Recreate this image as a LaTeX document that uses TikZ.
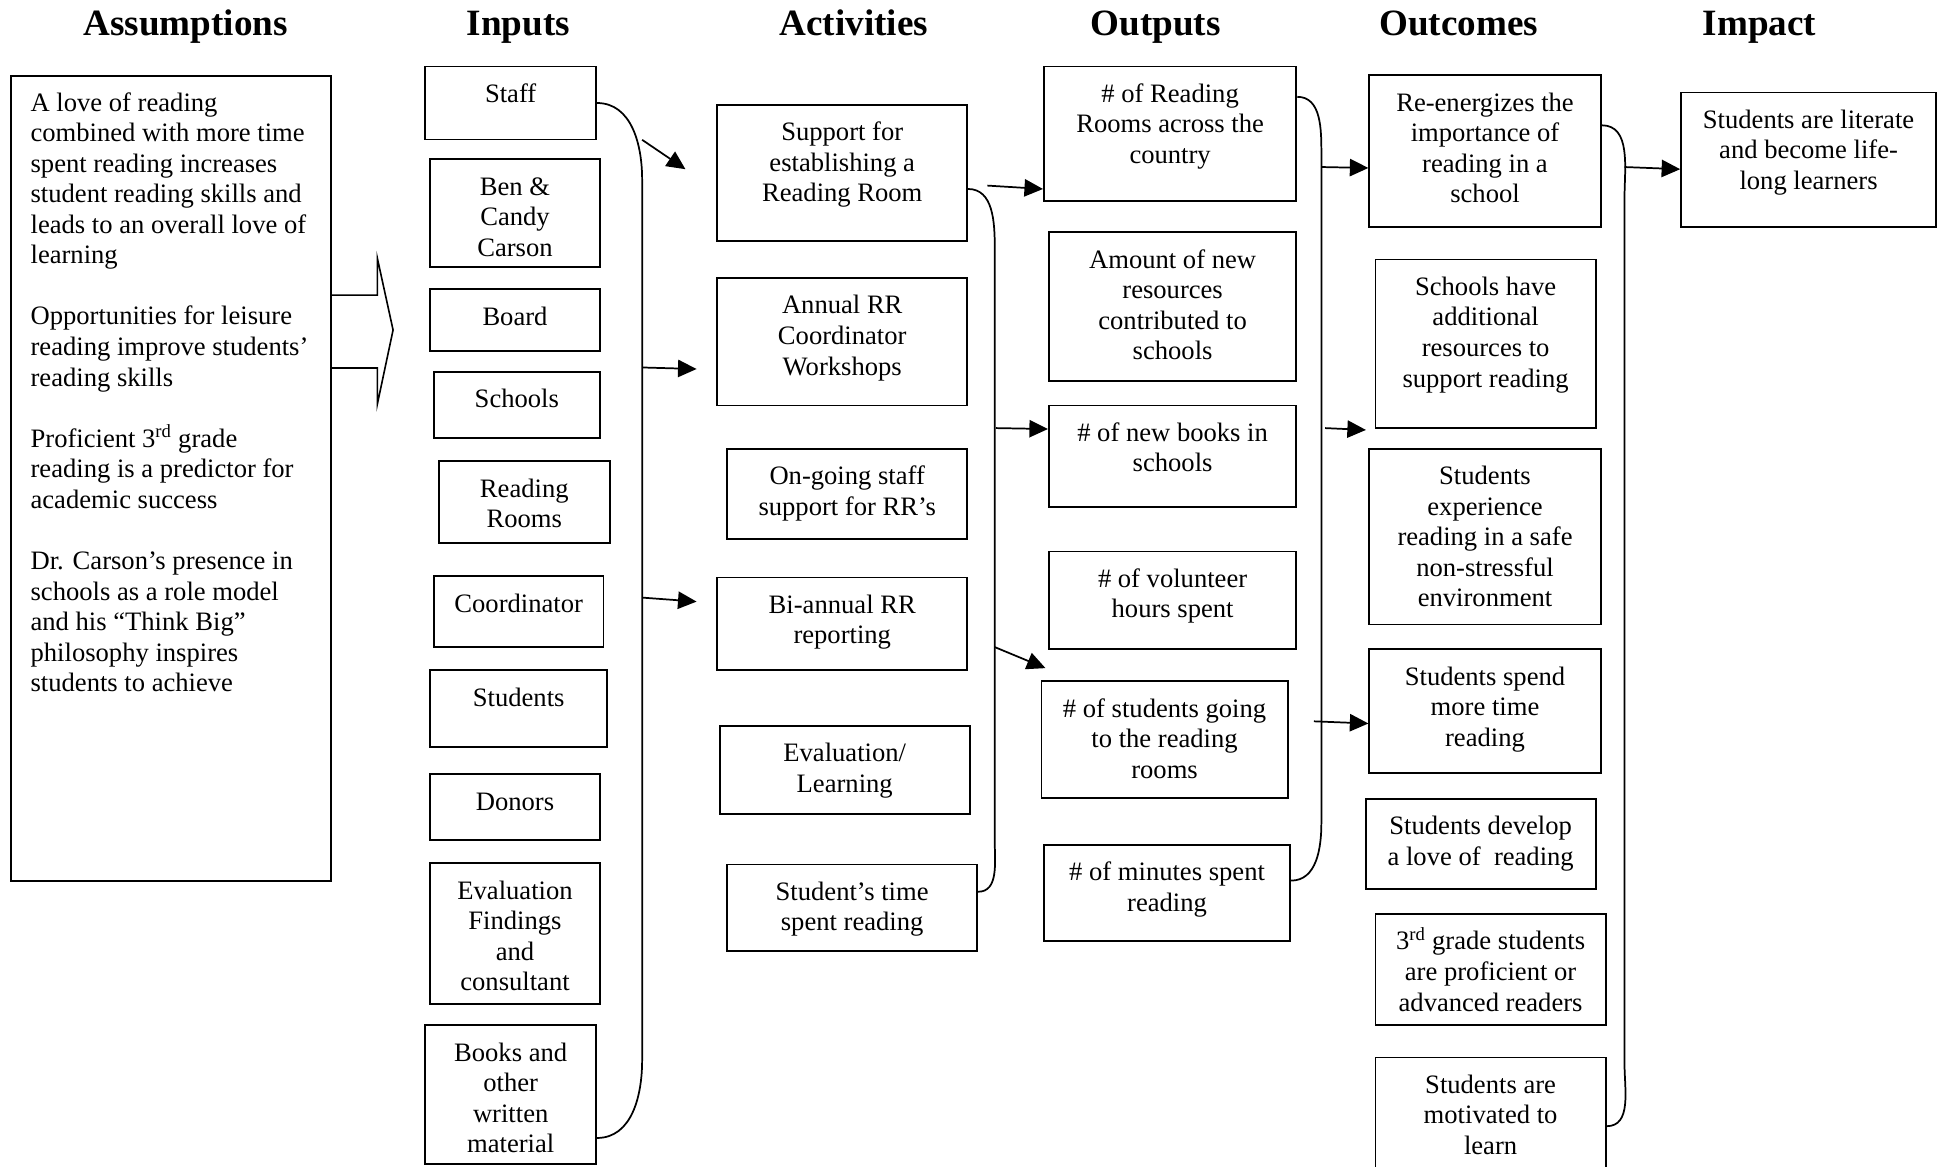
\documentclass[tikz,border=0pt]{standalone}
\usepackage{fontspec}
\setmainfont{Liberation Serif}
\usetikzlibrary{arrows.meta}
\newcommand{\boxtext}[3]{\parbox[c][#2pt][t]{#1pt}{\centering\rule{0pt}{29pt}#3}}

\begin{document}
\begin{tikzpicture}[x=1pt,y=-1pt]
  \tikzstyle{heading}=[font=\fontsize{30}{34}\selectfont\bfseries,anchor=base,inner sep=0pt]
  \tikzstyle{item}=[draw,line width=1.5pt,inner sep=0pt,anchor=north west,font=\fontsize{21.5}{24.7}\selectfont]
  \tikzstyle{brace}=[draw,line width=1.4pt]
  \tikzstyle{link}=[draw,line width=1.4pt,-{Triangle[length=15pt,width=14pt]}]
  \useasboundingbox (0,0) rectangle (1568,943);

  \node[heading] (tassume) at (150,29) {Assumptions};
  \node[heading] (tinput) at (419,29) {Inputs};
  \node[heading] (tactive) at (690,29) {Activities};
  \node[heading] (toutput) at (934,29) {Outputs};
  \node[heading] (toutcome) at (1179,29) {Outcomes};
  \node[heading] (timpact) at (1422,29) {Impact};

  \node[item] (assume) at (8,61) {\parbox[c][650pt][t]{259pt}{\raggedright\leftskip=16pt\rule{0pt}{28pt}A love of reading\\
    combined with more time\\ spent reading increases\\ student reading skills and\\
    leads to an overall love of\\ learning\\[24.7pt]
    Opportunities for leisure\\ reading improve students'\\ reading skills\\[24.7pt]
    Proficient 3\textsuperscript{rd} grade\\ reading is a predictor for\\ academic success\\[24.7pt]
    Dr. Carson's presence in\\ schools as a role model\\ and his ``Think Big''\\
    philosophy inspires\\ students to achieve}};
  \draw[line width=1.3pt] (267,238.5) -- (305,238.5) -- (305,208.7) -- (317.7,266.7)
    -- (305,326.6) -- (305,297.4) -- (267,297.4);

  \begin{scope}
    \node[item] (staff) at (343,53) {\boxtext{138}{59}{Staff}};
    \node[item] (carson) at (347,128) {\boxtext{137}{87}{Ben \&\\ Candy\\ Carson}};
    \node[item] (board) at (347,233) {\boxtext{137}{50}{Board}};
    \node[item] (schools) at (350,300) {\boxtext{134}{53}{Schools}};
    \node[item] (rrooms) at (354,372) {\boxtext{138}{66}{Reading\\ Rooms}};
    \node[item] (coord) at (350,465) {\boxtext{137}{57}{Coordinator}};
    \node[item] (students) at (347,541) {\boxtext{143}{62}{Students}};
    \node[item] (donors) at (347,625) {\boxtext{137}{53}{Donors}};
    \node[item] (evalfind) at (347,697) {\boxtext{137}{114}{Evaluation\\ Findings\\ and\\ consultant}};
    \node[item] (books) at (343,828) {\boxtext{138}{112}{Books and\\ other\\ written\\ material}};
    \path[brace] (staff.east) to[out=0,in=90] (519,145) -- (519,857)
      to[out=-90,in=0] ([yshift=-35pt]books.east);
  \end{scope}

  \begin{scope}
    \node[item] (support) at (579,84) {\boxtext{202}{110}{Support for\\ establishing a\\ Reading Room}};
    \node[item] (annual) at (579,224) {\boxtext{202}{103}{Annual RR\\ Coordinator\\ Workshops}};
    \node[item] (ongoing) at (587,362) {\boxtext{194}{73}{On-going staff\\ support for RR's}};
    \node[item] (biannual) at (579,466) {\boxtext{202}{75}{Bi-annual RR\\ reporting}};
    \node[item] (evallearn) at (581,586) {\boxtext{202}{71}{Evaluation/\\ Learning}};
    \node[item] (sttime) at (587,698) {\boxtext{202}{70}{Student's time\\ spent reading}};
    \path[brace] ([yshift=-13pt]support.east) to[out=0,in=90] (804,200) -- (804,680)
      to[out=-90,in=0] ([yshift=13pt]sttime.east);
  \end{scope}

  \begin{scope}
    \node[item] (nrooms) at (843,53) {\boxtext{204}{109}{\# of Reading\\ Rooms across the\\ country}};
    \node[item] (amount) at (847,187) {\boxtext{200}{120}{Amount of new\\ resources\\ contributed to\\ schools}};
    \node[item] (nbooks) at (847,327) {\boxtext{200}{82}{\# of new books in\\ schools}};
    \node[item] (volhours) at (847,445) {\boxtext{200}{79}{\# of volunteer\\ hours spent}};
    \node[item] (nstud) at (841,550) {\boxtext{199}{94}{\# of students going\\ to the reading\\ rooms}};
    \node[item] (nmin) at (843,682) {\boxtext{199}{78}{\# of minutes spent\\ reading}};
    \path[brace] ([yshift=30pt]nrooms.east) to[out=0,in=90] (1068,124) -- (1068,665)
      to[out=-90,in=0] ([yshift=10pt]nmin.east);
  \end{scope}

  \begin{scope}
    \node[item] (reenergy) at (1106,60) {\boxtext{187}{123}{Re-energizes the\\ importance of\\ reading in a\\ school}};
    \node[item] (schres) at (1111,209) {\boxtext{178}{136}{Schools have\\ additional\\ resources to\\ support reading}};
    \node[item] (safe) at (1106,362) {\boxtext{187}{142}{Students\\ experience\\ reading in a safe\\ non-stressful\\ environment}};
    \node[item] (spend) at (1106,524) {\boxtext{187}{100}{Students spend\\ more time\\ reading}};
    \node[item] (love) at (1103,645) {\boxtext{186}{73}{Students develop\\ a love of~ reading}};
    \node[item] (third) at (1111,738) {\boxtext{186}{90}{3\textsuperscript{rd} grade students\\ are proficient or\\ advanced readers}};
    \node[item] (motiv) at (1111,854) {\boxtext{186}{95}{Students are\\ motivated to\\ learn}};
    \path[brace] ([yshift=21pt]reenergy.east) to[out=0,in=90] (1313,160) -- (1313,860)
      to[out=-90,in=0] ([yshift=-8pt]motiv.east);
  \end{scope}

  \node[item] (literate) at (1358,74) {\boxtext{206}{109}{Students are literate\\ and become life-\\ long learners}};

  \coordinate (in1) at (519,113);
  \coordinate (in2) at (519,297);
  \coordinate (in3) at (519,483);
  \coordinate (ac1) at (798,150);
  \coordinate (ac2) at (805,346);
  \coordinate (ac3) at (804,523);
  \coordinate (ou1) at (1068,135);
  \coordinate (ou2) at (1071,346);
  \coordinate (ou3) at (1062,583);
  \coordinate (oc1) at (1313,135);
  \path[link] (in1) -- ([xshift=-25pt,yshift=3pt]support.west);
  \path[link] (in2) -- ([xshift=-16pt,yshift=-22pt]annual.west);
  \path[link] (in3) -- ([xshift=-16pt,yshift=18pt]biannual.west);
  \path[link] (ac1) -- ([yshift=-44.5pt]nrooms.west);
  \path[link] (ac2) -- ([yshift=22pt]nbooks.west);
  \path[link] (ac3) -- ([xshift=4pt,yshift=10pt]nstud.north west);
  \path[link] (ou1) -- ([yshift=-13.5pt]reenergy.west);
  \path[link] (ou2) -- ([xshift=-7pt,yshift=-1pt]schres.south west);
  \path[link] (ou3) -- ([yshift=-10pt]spend.west);
  \path[link] (oc1) -- ([yshift=-7.5pt]literate.west);
\end{tikzpicture}
\end{document}
